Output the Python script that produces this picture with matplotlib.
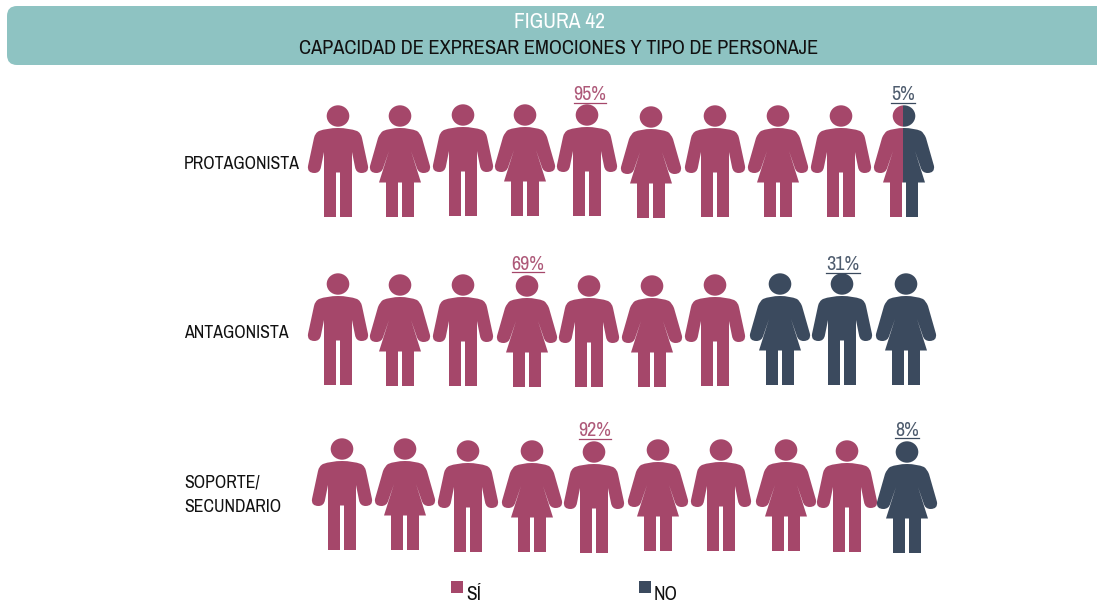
import matplotlib
matplotlib.use('Agg')
import matplotlib.pyplot as plt
from matplotlib.path import Path
from matplotlib.patches import PathPatch, FancyBboxPatch, Rectangle
from matplotlib.transforms import Affine2D
import numpy as np

# datos
row_labels = ['PROTAGONISTA', 'ANTAGONISTA', 'SOPORTE/\nSECUNDARIO']
si_values = [95, 69, 92]
no_values = [5, 31, 8]
row_figures = ['MFMFMFMFMF', 'MFMFMFMFMF', 'MFMFMFMFMF']
legend_labels = ['SÍ', 'NO']

# layout en pixeles
row_x = [
    [338, 400, 463, 525, 587, 651, 715, 778, 841, 904],
    [338, 400, 463, 527, 589, 652, 715, 780, 842, 906],
    [342, 405, 468, 532, 594, 658, 721, 786, 847, 907],
]
row_head_y = [
    [116, 116, 115, 115, 115, 117, 116, 116, 116, 116],
    [284, 285, 285, 286, 286, 286, 285, 284, 284, 284],
    [449, 449, 451, 451, 452, 450, 450, 450, 451, 452],
]
row_label_y = [164, 333, 495]
si_label_pos = [(590, 95), (528, 264), (595, 431)]
no_label_pos = [(903, 95), (843, 265), (907, 430)]

PINK = '#A5476A'
NAVY = '#3B4A5E'
TEAL = '#8EC3C2'

plt.rcParams['font.family'] = ['Archivo Narrow', 'Liberation Sans', 'DejaVu Sans']


def half_to_path(verts, codes):
    # media silueta -> silueta completa + cabeza
    half = Path(verts, codes).to_polygons(closed_only=False)[0]
    other = half[::-1] * np.array([-1, 1])
    body = np.vstack([half, other, half[:1]])
    head = Path.unit_circle().transformed(Affine2D().scale(11.3, 10.7))
    return Path.make_compound_path(Path(body), head)


L, C = Path.LINETO, Path.CURVE3
man_path = half_to_path(
    [(0, 12), (11, 12), (19, 15), (23, 17), (24, 22), (30, 50), (31, 57), (23.5, 57),
     (18, 57), (17, 51), (14, 36), (14, 101), (2, 101), (2, 56.5), (0, 56.5)],
    [Path.MOVETO, C, C, C, C, L, C, C, C, C, L, L, L, L, L],
)
woman_path = half_to_path(
    [(0, 12), (10, 12), (17, 15), (20, 17), (22, 22), (30, 50), (31, 57), (23.5, 57),
     (18, 57), (16.5, 51), (11, 35), (21, 66.5), (14, 66.5), (14, 101), (2, 101), (2, 66.5), (0, 66.5)],
    [Path.MOVETO, C, C, C, C, L, C, C, C, C, L, L, L, L, L, L, L],
)
figure_paths = {'M': man_path, 'F': woman_path}


def draw_figure(ax, kind, x, y, color, clip_left=None, clip_right=None):
    tr = Affine2D().translate(x, y) + ax.transData
    patch = PathPatch(figure_paths[kind], facecolor=color, edgecolor='none', transform=tr)
    ax.add_patch(patch)
    if clip_left is not None or clip_right is not None:
        x0 = x - 40 if clip_left is None else clip_left
        x1 = x + 40 if clip_right is None else clip_right
        patch.set_clip_path(Rectangle((x0, y - 20), x1 - x0, 130, transform=ax.transData))


def pct_label(ax, fig, value, pos, color):
    t = ax.text(pos[0], pos[1], f'{value}%', color=color, fontsize=14.5, ha='center', va='center',
                alpha=0.9)
    bb = t.get_window_extent(fig.canvas.get_renderer()).transformed(ax.transData.inverted())
    ax.plot([bb.x0, bb.x1], [pos[1] + 8, pos[1] + 8], color=color, lw=0.9)


fig = plt.figure(figsize=(10.97, 6.08), dpi=100)
ax = fig.add_axes([0, 0, 1, 1])
ax.set_xlim(0, 1097)
ax.set_ylim(608, 0)
ax.axis('off')

# banner
ax.add_patch(FancyBboxPatch((7, 6), 1200, 59, boxstyle='round,pad=0,rounding_size=10',
                            facecolor=TEAL, edgecolor='none'))
ax.text(559, 22, 'FIGURA 42', color='white', fontsize=15.5, ha='center', va='center')
ax.text(558.5, 49, 'CAPACIDAD DE EXPRESAR EMOCIONES Y TIPO DE PERSONAJE', color='#111111',
        fontsize=14.7, ha='center', va='center')

# filas de figuras
for r, label in enumerate(row_labels):
    filled = round(si_values[r] / 10 * 2) / 2
    for i, kind in enumerate(row_figures[r]):
        x, y = row_x[r][i], row_head_y[r][i]
        if i + 1 <= filled:
            draw_figure(ax, kind, x, y, PINK)
        elif i >= filled:
            draw_figure(ax, kind, x, y, NAVY)
        else:
            split = x - 1
            draw_figure(ax, kind, x, y, PINK, clip_right=split)
            draw_figure(ax, kind, x, y, NAVY, clip_left=split)
    ax.text(184, row_label_y[r], label, color='#111111', fontsize=12.8, ha='left', va='center',
            linespacing=1.65)
    pct_label(ax, fig, si_values[r], si_label_pos[r], PINK)
    pct_label(ax, fig, no_values[r], no_label_pos[r], NAVY)

# leyenda
for x, color, text in zip([451, 639], [PINK, NAVY], legend_labels):
    ax.add_patch(Rectangle((x, 581), 12, 12, facecolor=color, edgecolor='none'))
    ax.text(x + 15, 595, text, color='#111111', fontsize=14, ha='left', va='center')

fig.savefig('out.png', dpi=100)
